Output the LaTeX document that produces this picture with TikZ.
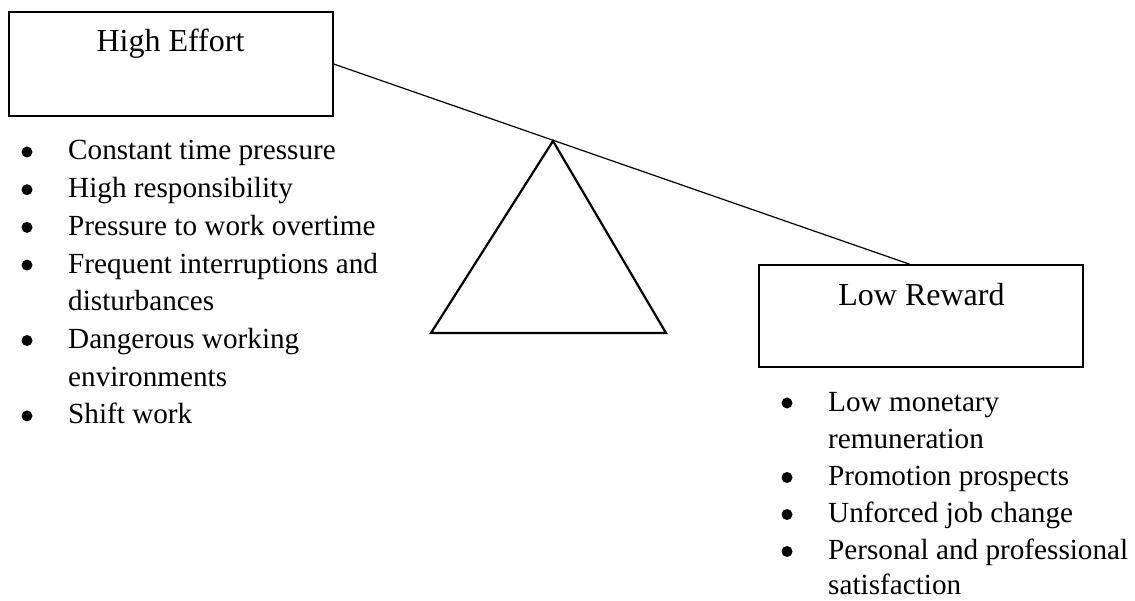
\documentclass[tikz,border=0pt]{standalone}
\usepackage{fontspec}
\setmainfont{Liberation Serif}
\begin{document}
\begin{tikzpicture}[x=1pt,y=-1pt,
  box/.style={draw, line width=1.3pt, minimum width=324pt, minimum height=104pt, inner sep=0pt},
  title/.style={font=\fontsize{32}{38}\selectfont, anchor=base, inner sep=0pt},
  item/.style={font=\fontsize{29.2}{37}\selectfont, anchor=base west, inner sep=0pt},
  bul/.style={circle, fill, inner sep=0pt, minimum size=11pt, yshift=8pt},
  beam/.style={line width=1.2pt},
  fulcrum/.style={line width=2.2pt, line join=miter}]
\useasboundingbox (0,0) rectangle (1135,601);
% boxes
\node[box] (he) at (171,64) {};
\node[title] (het) at (170.5,52) {High Effort};
\node[box, minimum height=102pt] (lr) at (921,316) {};
\node[title] (lrt) at (921.5,306) {Low Reward};
% fulcrum
\coordinate (apex) at (553,141);
\coordinate (bl) at (431,333);
\coordinate (br) at (666,333);
\draw[fulcrum] (apex) -- (br) -- (bl) -- cycle;
% beam
\coordinate (beamend) at ([xshift=-11pt]lr.north);
\draw[beam] (he.east) -- (beamend);
% left list
\node[bul] (lb1) at (27,160) {};
\node[item] (l1) at (68,160) {Constant time pressure};
\node[bul] (lb2) at (27,197.7) {};
\node[item] (l2) at (68,197.7) {High responsibility};
\node[bul] (lb3) at (27,235.4) {};
\node[item] (l3) at (68,235.4) {Pressure to work overtime};
\node[bul] (lb4) at (27,273.1) {};
\node[item] (l4) at (68,273.1) {Frequent interruptions and};
\node[item] (l4b) at (68,310.8) {disturbances};
\node[bul] (lb5) at (27,348.5) {};
\node[item] (l5) at (68,348.5) {Dangerous working};
\node[item] (l5b) at (68,386.2) {environments};
\node[bul] (lb6) at (27,423.9) {};
\node[item] (l6) at (68,423.9) {Shift work};
% right list
\node[bul] (rb1) at (787,411) {};
\node[item] (r1) at (828,411) {Low monetary};
\node[item] (r1b) at (828,448) {remuneration};
\node[bul] (rb2) at (787,485.5) {};
\node[item] (r2) at (828,485.5) {Promotion prospects};
\node[bul] (rb3) at (787,522.5) {};
\node[item] (r3) at (828,522.5) {Unforced job change};
\node[bul] (rb4) at (787,559.5) {};
\node[item] (r4) at (828,559.5) {Personal and professional};
\node[item] (r4b) at (828,594) {satisfaction};
\end{tikzpicture}
\end{document}
